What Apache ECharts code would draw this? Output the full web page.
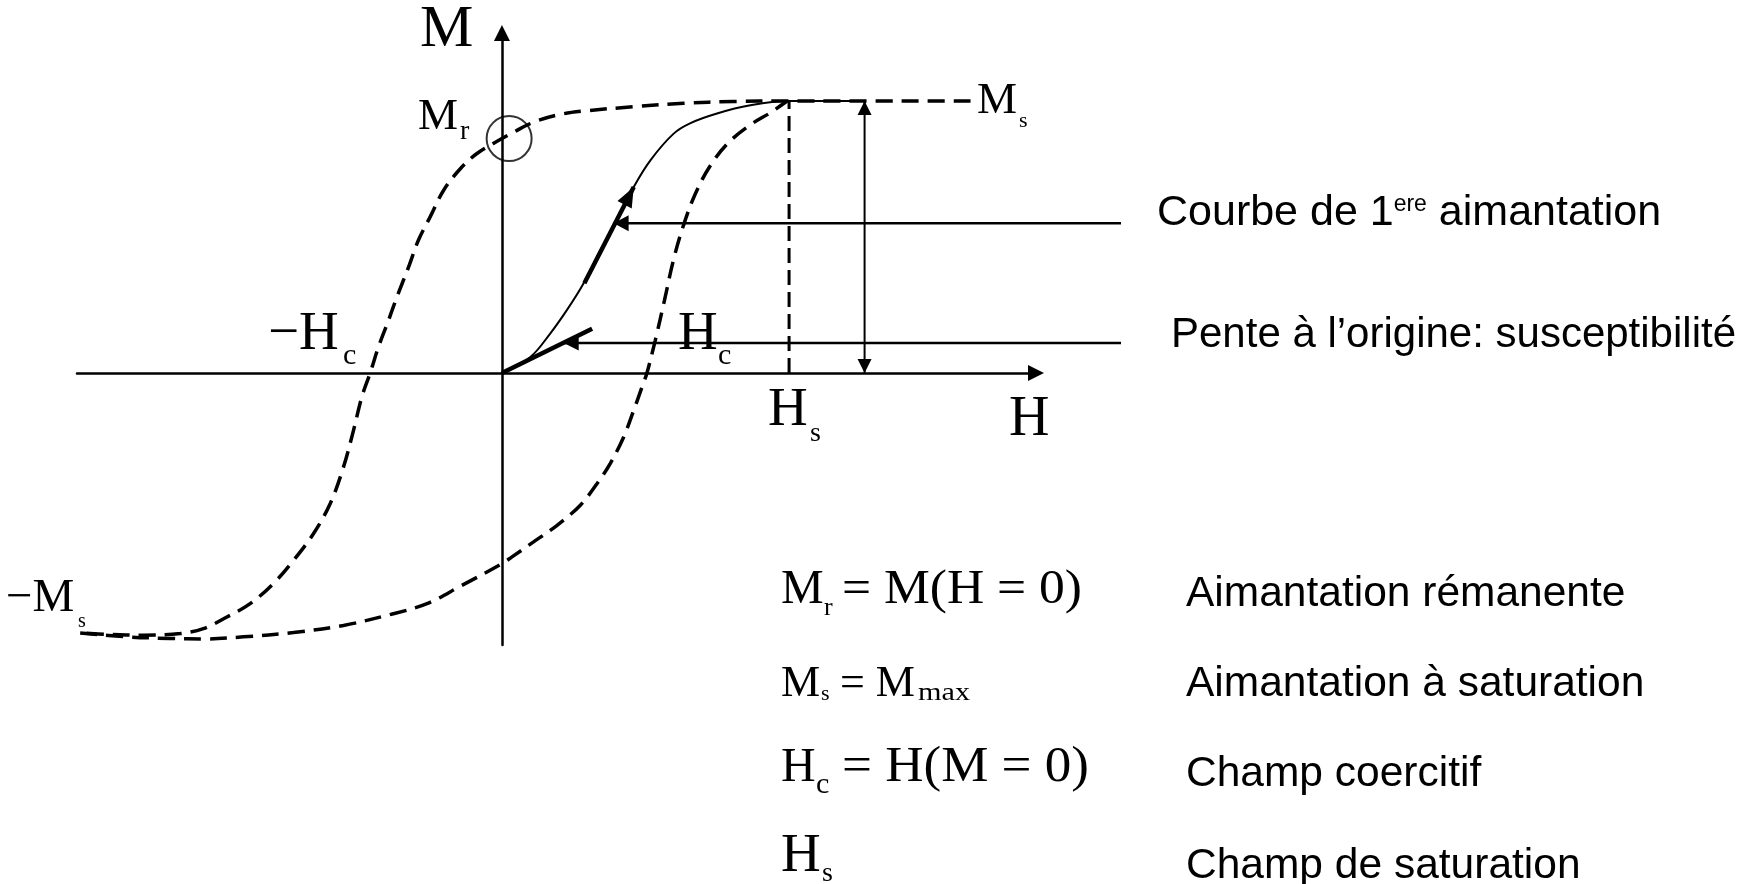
<!DOCTYPE html>
<html><head><meta charset="utf-8">
<script src="https://cdn.jsdelivr.net/npm/echarts@6/dist/echarts.min.js"></script>
<style>html,body{margin:0;padding:0;background:#fff;}#c{width:1761px;height:884px;}</style>
</head><body><div id="c"></div>
<script>
// ---------- data (H in units of Hs, M in units of Ms) ----------
const axisRangeH = [-1.48, 1.86];
const axisRangeM = [-1.0, 1.25];

// descending branch of the loop (from +Ms to -Ms)
const upperH = [1.632, 0.993, 0.807, 0.633, 0.459, 0.284, 0.200, 0.110, 0.040, 0, -0.087, -0.145, -0.203, -0.250, -0.291, -0.325, -0.366, -0.395, -0.430, -0.459, -0.488, -0.517, -0.552, -0.598, -0.656, -0.726, -0.796, -0.877, -0.958, -1.040, -1.121, -1.249, -1.365, -1.469];
const upperM = [1.000, 1.000, 0.998, 0.992, 0.979, 0.963, 0.950, 0.922, 0.885, 0.862, 0.807, 0.751, 0.672, 0.574, 0.488, 0.390, 0.279, 0.194, 0.096, 0, -0.088, -0.211, -0.346, -0.480, -0.590, -0.689, -0.774, -0.848, -0.897, -0.940, -0.958, -0.964, -0.961, -0.956];

// ascending branch of the loop (from -Ms to +Ms)
const lowerH = [-1.469, -1.307, -1.156, -1.040, -0.900, -0.726, -0.552, -0.378, -0.261, -0.145, 0, 0.035, 0.110, 0.192, 0.273, 0.331, 0.377, 0.424, 0.459, 0.488, 0.505, 0.534, 0.566, 0.597, 0.632, 0.674, 0.726, 0.789, 0.866, 0.935, 0.993];
const lowerM = [-0.956, -0.970, -0.976, -0.978, -0.970, -0.954, -0.928, -0.885, -0.848, -0.784, -0.701, -0.676, -0.621, -0.560, -0.486, -0.407, -0.333, -0.235, -0.137, -0.051, 0, 0.120, 0.267, 0.414, 0.542, 0.660, 0.763, 0.847, 0.913, 0.957, 1.000];

// first magnetisation curve
const firstH = [0, 0.099, 0.168, 0.226, 0.284, 0.343, 0.401, 0.459, 0.517, 0.598, 0.655, 0.749, 0.865, 0.993, 1.098, 1.214];
const firstM = [0, 0.059, 0.145, 0.231, 0.329, 0.451, 0.561, 0.684, 0.782, 0.880, 0.918, 0.954, 0.984, 1.000, 1.000, 1.000];

// construction lines
const hsLineH = [1, 1];          const hsLineM = [0, 1];
const msSpanH = [1.263, 1.263];  const msSpanM = [0, 1];
const slopeH = [0, 0.314];       const slopeM = [0, 0.163];
const steepH = [0.287, 0.459];   const steepM = [0.330, 0.684];
const pointer1H = [2.156, 0.389]; const pointer1M = [0.551, 0.551];
const pointer2H = [2.156, 0.215]; const pointer2M = [0.110, 0.110];
const mrMarkH = [0.025];         const mrMarkM = [0.862];

// texts
const courbeParts = ['Courbe de 1', 'ere', ' aimantation'];
const penteText = 'Pente à l’origine: susceptibilité';
const defTexts = ['Aimantation rémanente', 'Aimantation à saturation', 'Champ coercitif', 'Champ de saturation'];

// ---------- chart ----------
const zip = (h, m) => h.map((v, i) => [v, m[i]]);
const BLACK = '#000';
const SERIF = '"Liberation Serif","Times New Roman",serif';
const SANS = '"Liberation Sans",Arial,sans-serif';

function lineSeries(name, h, m, width, type, smooth) {
  return {
    type: 'line', name, data: zip(h, m), symbol: 'none', showSymbol: false,
    smooth: smooth || false, clip: false, silent: true, animation: false,
    lineStyle: { color: BLACK, width, type: type || 'solid', cap: 'butt' }
  };
}

const chart = echarts.init(document.getElementById('c'), null, { renderer: 'canvas' });
const hideAxis = {
  axisTick: { show: false }, axisLabel: { show: false }, splitLine: { show: false }
};
chart.setOption({
  animation: false,
  backgroundColor: '#fff',
  grid: { left: 77, right: 725, top: 33, bottom: 239, containLabel: false, outerBoundsMode: 'none' },
  xAxis: Object.assign({
    type: 'value', min: axisRangeH[0], max: axisRangeH[1],
    axisLine: { show: true, onZero: true, symbol: ['none', 'triangle'], symbolSize: [16, 16],
      lineStyle: { color: BLACK, width: 2.5 } }
  }, hideAxis),
  yAxis: Object.assign({
    type: 'value', min: axisRangeM[0], max: axisRangeM[1],
    axisLine: { show: true, onZero: true, symbol: ['none', 'triangle'], symbolSize: [16, 16],
      lineStyle: { color: BLACK, width: 2.5 } }
  }, hideAxis),
  series: [
    lineSeries('descending branch', upperH, upperM, 3.5, [17, 9], 0.35),
    lineSeries('ascending branch', lowerH, lowerM, 3.5, [17, 9], 0.35),
    lineSeries('Hs', hsLineH, hsLineM, 3, [15, 7]),
    lineSeries('first magnetisation', firstH, firstM, 2, 'solid', 0.35),
    lineSeries('Ms span', msSpanH, msSpanM, 2),
    lineSeries('initial slope', slopeH, slopeM, 4.5),
    lineSeries('steep slope', steepH, steepM, 4.5),
    {
      type: 'scatter', name: 'Mr', data: zip(mrMarkH, mrMarkM), symbol: 'circle', symbolSize: 45,
      silent: true, clip: false,
      itemStyle: { color: 'rgba(0,0,0,0)', borderColor: BLACK, borderWidth: 2 }
    }
  ]
});

// ---------- pixel mapping from the chart's own scales (extrapolated beyond the axis range) ----------
const p0 = chart.convertToPixel({ gridIndex: 0 }, [0, 0]);
const p1 = chart.convertToPixel({ gridIndex: 0 }, [1, 1]);
const toPx = p => [p0[0] + p[0] * (p1[0] - p0[0]), p0[1] + p[1] * (p1[1] - p0[1])];

function head(tail, tip, len, wid) {
  const a = toPx(tail), b = toPx(tip);
  const dx = b[0] - a[0], dy = b[1] - a[1], L = Math.hypot(dx, dy);
  const ux = dx / L, uy = dy / L, nx = -uy, ny = ux;
  const bx = b[0] - ux * len, by = b[1] - uy * len;
  return { type: 'polygon', z: 20, silent: true,
    shape: { points: [[b[0], b[1]], [bx + nx * wid / 2, by + ny * wid / 2], [bx - nx * wid / 2, by - ny * wid / 2]] },
    style: { fill: BLACK } };
}
function segment(h, m, width) {
  const a = toPx([h[0], m[0]]), b = toPx([h[1], m[1]]);
  return { type: 'line', z: 15, silent: true,
    shape: { x1: a[0], y1: a[1], x2: b[0], y2: b[1] },
    style: { stroke: BLACK, lineWidth: width } };
}
const ctx = document.createElement('canvas').getContext('2d');
function measure(t, size, fam) { ctx.font = size + 'px ' + fam; return ctx.measureText(t).width; }
function txt(t, x, y, size, fam, width) {
  const nat = measure(t, size, fam);
  return { type: 'text', x, y, scaleX: width ? width / nat : 1, z: 20, silent: true,
    style: { text: t, font: size + 'px ' + fam, fill: BLACK,
      textAlign: 'left', textVerticalAlign: 'middle', align: 'left', verticalAlign: 'middle' } };
}
function run(x, pieces) {
  const out = []; let cx = x;
  pieces.forEach(([t, size, fam, y]) => { out.push(txt(t, cx, y, size, fam)); cx += measure(t, size, fam); });
  return out;
}
const el = [];
// pointer lines and arrowheads
el.push(segment(pointer1H, pointer1M, 2.5));
el.push(segment(pointer2H, pointer2M, 2.5));
el.push(head([msSpanH[0], msSpanM[0]], [msSpanH[1], msSpanM[1]], 14, 14));
el.push(head([msSpanH[1], msSpanM[1]], [msSpanH[0], msSpanM[0]], 14, 14));
el.push(head([pointer1H[0], pointer1M[0]], [pointer1H[1], pointer1M[1]], 15, 16));
el.push(head([pointer2H[0], pointer2M[0]], [pointer2H[1], pointer2M[1]], 15, 15));
el.push(head([steepH[0], steepM[0]], [steepH[1], steepM[1]], 20, 16));

// diagram labels
el.push(txt('M', 420, 30, 60, SERIF));
el.push(txt('H', 1009, 420, 56, SERIF));
el.push(txt('M', 418, 117, 45, SERIF));  el.push(txt('r', 460, 132, 28, SERIF));
el.push(txt('M', 977, 101.5, 45, SERIF)); el.push(txt('s', 1019, 121, 22, SERIF));
el.push(txt('−H', 268, 335, 55, SERIF)); el.push(txt('c', 343, 356.6, 30, SERIF));
el.push(txt('H', 678, 335, 55, SERIF));  el.push(txt('c', 718, 356.6, 30, SERIF));
el.push(txt('H', 768, 411, 55, SERIF));  el.push(txt('s', 810, 433.3, 28, SERIF));
el.push(txt('−M', 6, 598.5, 47, SERIF)); el.push(txt('s', 78, 621.7, 20, SERIF));

// pointer texts
run(1157, [[courbeParts[0], 43, SANS, 213], [courbeParts[1], 23, SANS, 205], [courbeParts[2], 43, SANS, 213]]).forEach(e => el.push(e));
el.push(txt(penteText, 1171, 335, 42, SANS));

// formulas
el.push(txt('M', 781, 590, 48, SERIF)); el.push(txt('r', 824, 608, 26, SERIF));
el.push(txt('= M(H = 0)', 842, 590, 48, SERIF, 240));
el.push(txt('M', 781, 684, 44, SERIF)); el.push(txt('s', 821, 694, 22, SERIF));
el.push(txt('= M', 840, 684, 44, SERIF, 75)); el.push(txt('max', 918, 693, 26, SERIF, 52));
el.push(txt('H', 781, 768, 48, SERIF)); el.push(txt('c', 816, 785, 30, SERIF));
el.push(txt('= H(M = 0)', 842, 768, 50, SERIF, 247));
el.push(txt('H', 781, 857, 55, SERIF)); el.push(txt('s', 822, 874, 28, SERIF));

// definitions
const defY = [594, 684, 774, 866];
defTexts.forEach((t, i) => el.push(txt(t, 1186, defY[i], 42.5, SANS)));

chart.setOption({ graphic: { elements: el } });
</script>
</body></html>
